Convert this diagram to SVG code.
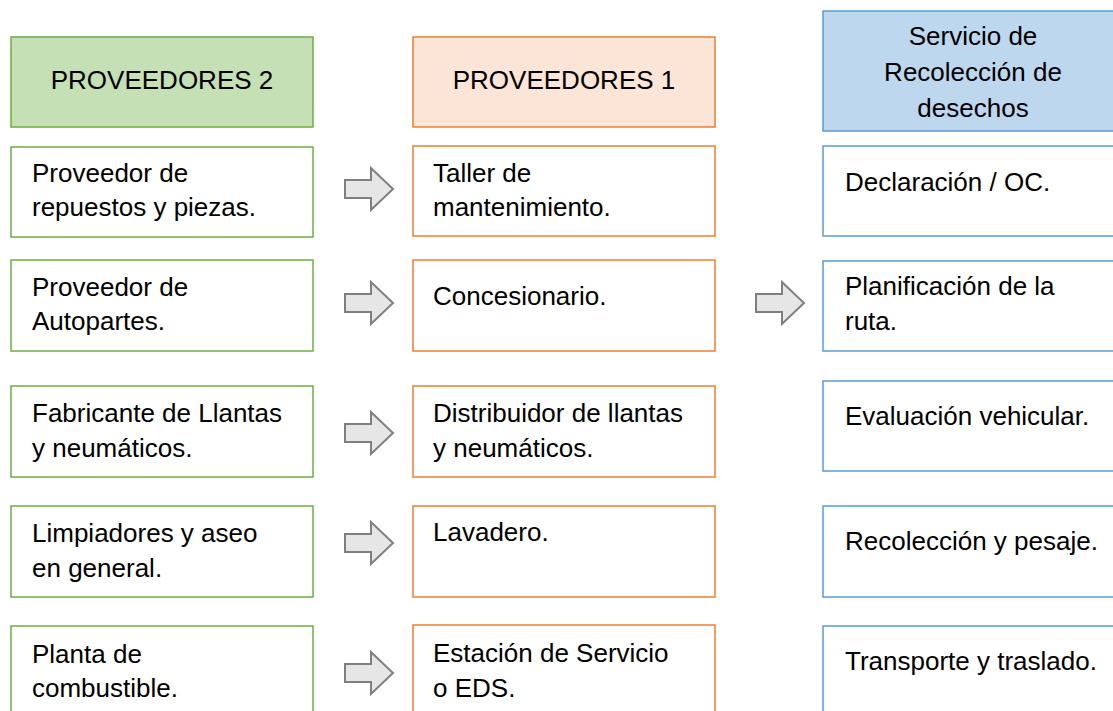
<svg xmlns="http://www.w3.org/2000/svg" width="1113" height="711" viewBox="0 0 1113 711">
<defs>
<style>
text{font-family:"Liberation Sans",Arial,sans-serif;font-size:26px;fill:#000}
.c{text-anchor:middle}
.g{fill:#fff;stroke:#70AD47;stroke-width:1.5}
.gh{fill:#C5E0B4;stroke:#70AD47;stroke-width:1.5}
.o{fill:#fff;stroke:#ED7D31;stroke-width:1.5}
.oh{fill:#FBE5D6;stroke:#ED7D31;stroke-width:1.5}
.b{fill:#fff;stroke:#5B9BD5;stroke-width:1.5}
.bh{fill:#BDD7EE;stroke:#5B9BD5;stroke-width:1.5}
.ar{fill:#E6E6E6;stroke:#7F7F7F;stroke-width:2;stroke-linejoin:miter}
</style>
<path id="arr" d="M0,-9 H26 V-21 L48,0 L26,21 V9 H0 Z"/>
</defs>
<rect width="1113" height="711" fill="#fff"/>

<g id="hdr-prov2"><rect class="gh" x="11" y="37" width="302" height="90"/><text class="c" x="162" y="89">PROVEEDORES 2</text></g>
<g id="hdr-prov1"><rect class="oh" x="413" y="37" width="302" height="90"/><text class="c" x="564" y="89">PROVEEDORES 1</text></g>
<g id="hdr-serv"><rect class="bh" x="823" y="11" width="302" height="120"/><text class="c" x="973" y="45">Servicio de</text><text class="c" x="973" y="81">Recolección de</text><text class="c" x="973" y="117">desechos</text></g>

<g id="p2-1"><rect class="g" x="11" y="147" width="302" height="90"/><text x="32" y="182">Proveedor de</text><text x="32" y="216">repuestos y piezas.</text></g>
<g id="p2-2"><rect class="g" x="11" y="260" width="302" height="91"/><text x="32" y="296">Proveedor de</text><text x="32" y="330">Autopartes.</text></g>
<g id="p2-3"><rect class="g" x="11" y="386" width="302" height="91"/><text x="32" y="422">Fabricante de Llantas</text><text x="32" y="457">y neumáticos.</text></g>
<g id="p2-4"><rect class="g" x="11" y="506" width="302" height="91"/><text x="32" y="542">Limpiadores y aseo</text><text x="32" y="577">en general.</text></g>
<g id="p2-5"><rect class="g" x="11" y="626" width="302" height="91"/><text x="32" y="663">Planta de</text><text x="32" y="697">combustible.</text></g>

<g id="p1-1"><rect class="o" x="413" y="146" width="302" height="90"/><text x="433" y="182">Taller de</text><text x="433" y="216">mantenimiento.</text></g>
<g id="p1-2"><rect class="o" x="413" y="260" width="302" height="91"/><text x="433" y="305">Concesionario.</text></g>
<g id="p1-3"><rect class="o" x="413" y="386" width="302" height="91"/><text x="433" y="422">Distribuidor de llantas</text><text x="433" y="457">y neumáticos.</text></g>
<g id="p1-4"><rect class="o" x="413" y="506" width="302" height="91"/><text x="433" y="541">Lavadero.</text></g>
<g id="p1-5"><rect class="o" x="413" y="625" width="302" height="91"/><text x="433" y="662">Estación de Servicio</text><text x="433" y="697">o EDS.</text></g>

<g id="s-1"><rect class="b" x="823" y="146" width="302" height="90"/><text x="845" y="191">Declaración / OC.</text></g>
<g id="s-2"><rect class="b" x="823" y="261" width="302" height="90"/><text x="845" y="295">Planificación de la</text><text x="845" y="330">ruta.</text></g>
<g id="s-3"><rect class="b" x="823" y="381" width="302" height="90"/><text x="845" y="425">Evaluación vehicular.</text></g>
<g id="s-4"><rect class="b" x="823" y="506" width="302" height="91"/><text x="845" y="550">Recolección y pesaje.</text></g>
<g id="s-5"><rect class="b" x="823" y="626" width="302" height="91"/><text x="845" y="670">Transporte y traslado.</text></g>

<g id="connectors">
<use href="#arr" class="ar" x="345" y="189"/>
<use href="#arr" class="ar" x="345" y="303"/>
<use href="#arr" class="ar" x="345" y="433"/>
<use href="#arr" class="ar" x="345" y="543"/>
<use href="#arr" class="ar" x="345" y="673"/>
<use href="#arr" class="ar" x="756" y="303"/>
</g>
</svg>
